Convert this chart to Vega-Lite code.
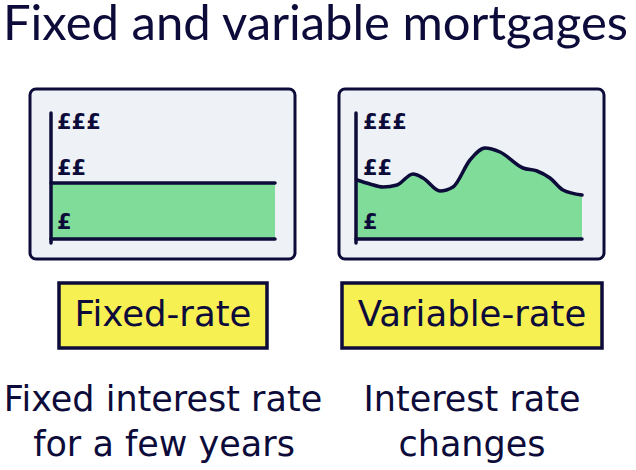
{
  "$schema": "https://vega.github.io/schema/vega-lite/v6.json",
  "width": 636,
  "height": 470,
  "autosize": {"type": "fit", "contains": "padding"},
  "padding": 0,
  "background": "white",
  "config": {"view": {"stroke": null}},
  "datasets": {
    "panels": [
      {"panel": "Fixed", "x0": 30, "x1": 295, "y0": 89, "y1": 259},
      {"panel": "Variable", "x0": 339, "x1": 604, "y0": 89, "y1": 259}
    ],
    "fixed": [
      {"x": 51, "rate": 183, "base": 239},
      {"x": 275, "rate": 183, "base": 239}
    ],
    "variable": [
      {"x": 357, "rate": 180, "base": 239},
      {"x": 370, "rate": 184, "base": 239},
      {"x": 383, "rate": 187, "base": 239},
      {"x": 397, "rate": 185, "base": 239},
      {"x": 413, "rate": 174, "base": 239},
      {"x": 423, "rate": 178, "base": 239},
      {"x": 440, "rate": 191, "base": 239},
      {"x": 453, "rate": 187, "base": 239},
      {"x": 470, "rate": 160, "base": 239},
      {"x": 485, "rate": 148, "base": 239},
      {"x": 500, "rate": 152, "base": 239},
      {"x": 523, "rate": 168, "base": 239},
      {"x": 537, "rate": 171, "base": 239},
      {"x": 550, "rate": 178, "base": 239},
      {"x": 563, "rate": 190, "base": 239},
      {"x": 582, "rate": 195, "base": 239}
    ],
    "axes": [
      {"x": 51, "x2": 51, "y": 113, "y2": 243},
      {"x": 51, "x2": 275, "y": 239, "y2": 239},
      {"x": 356, "x2": 356, "y": 113, "y2": 243},
      {"x": 356, "x2": 582, "y": 239, "y2": 239}
    ],
    "pounds": [
      {"x": 57, "y": 123, "label": "£££"},
      {"x": 57, "y": 169, "label": "££"},
      {"x": 57, "y": 223, "label": "£"},
      {"x": 363, "y": 123, "label": "£££"},
      {"x": 363, "y": 169, "label": "££"},
      {"x": 363, "y": 223, "label": "£"}
    ],
    "tags": [
      {"x0": 59, "x1": 267, "y0": 283, "y1": 348, "xc": 163, "yb": 326, "label": "Fixed-rate"},
      {"x0": 342, "x1": 602, "y0": 283, "y1": 348, "xc": 472, "yb": 326, "label": "Variable-rate"}
    ],
    "notes": [
      {"x": 163, "y": 411, "label": "Fixed interest rate"},
      {"x": 164, "y": 456, "label": "for a few years"},
      {"x": 472, "y": 411, "label": "Interest rate"},
      {"x": 472, "y": 456, "label": "changes"}
    ],
    "title": [
      {"x": 3, "y": 40, "label": "Fixed and variable mortgages"}
    ]
  },
  "layer": [
    {
      "data": {"name": "panels"},
      "mark": {"type": "rect", "fill": "#eef2f6", "stroke": "#0c0b3a", "strokeWidth": 3, "cornerRadius": 6},
      "encoding": {
        "x": {"field": "x0", "type": "quantitative", "scale": {"domain": [0, 636], "nice": false, "zero": false}, "axis": null},
        "x2": {"field": "x1"},
        "y": {"field": "y0", "type": "quantitative", "scale": {"domain": [0, 470], "nice": false, "zero": false, "reverse": true}, "axis": null},
        "y2": {"field": "y1"}
      }
    },
    {
      "data": {"name": "fixed"},
      "mark": {"type": "area", "color": "#80dd99"},
      "encoding": {
        "x": {"field": "x", "type": "quantitative"},
        "y": {"field": "rate", "type": "quantitative"},
        "y2": {"field": "base"}
      }
    },
    {
      "data": {"name": "variable"},
      "mark": {"type": "area", "color": "#80dd99", "interpolate": "monotone"},
      "encoding": {
        "x": {"field": "x", "type": "quantitative"},
        "y": {"field": "rate", "type": "quantitative"},
        "y2": {"field": "base"}
      }
    },
    {
      "data": {"name": "fixed"},
      "mark": {"type": "line", "color": "#0c0b3a", "strokeWidth": 3.5, "strokeCap": "round"},
      "encoding": {
        "x": {"field": "x", "type": "quantitative"},
        "y": {"field": "rate", "type": "quantitative"}
      }
    },
    {
      "data": {"name": "variable"},
      "mark": {"type": "line", "color": "#0c0b3a", "strokeWidth": 3.5, "strokeCap": "round", "interpolate": "monotone"},
      "encoding": {
        "x": {"field": "x", "type": "quantitative"},
        "y": {"field": "rate", "type": "quantitative"}
      }
    },
    {
      "data": {"name": "axes"},
      "mark": {"type": "rule", "color": "#0c0b3a", "strokeWidth": 3.5, "strokeCap": "round"},
      "encoding": {
        "x": {"field": "x", "type": "quantitative"},
        "x2": {"field": "x2"},
        "y": {"field": "y", "type": "quantitative"},
        "y2": {"field": "y2"}
      }
    },
    {
      "data": {"name": "pounds"},
      "mark": {"type": "text", "align": "left", "baseline": "middle", "font": "DejaVu Sans", "fontWeight": "bold", "fontSize": 21, "color": "#0c0b3a"},
      "encoding": {
        "x": {"field": "x", "type": "quantitative"},
        "y": {"field": "y", "type": "quantitative"},
        "text": {"field": "label"}
      }
    },
    {
      "data": {"name": "tags"},
      "mark": {"type": "rect", "fill": "#f7f052", "stroke": "#0c0b3a", "strokeWidth": 3.5},
      "encoding": {
        "x": {"field": "x0", "type": "quantitative"},
        "x2": {"field": "x1"},
        "y": {"field": "y0", "type": "quantitative"},
        "y2": {"field": "y1"}
      }
    },
    {
      "data": {"name": "tags"},
      "mark": {"type": "text", "align": "center", "baseline": "alphabetic", "font": "DejaVu Sans", "fontSize": 35.5, "color": "#0c0b3a"},
      "encoding": {
        "x": {"field": "xc", "type": "quantitative"},
        "y": {"field": "yb", "type": "quantitative"},
        "text": {"field": "label"}
      }
    },
    {
      "data": {"name": "notes"},
      "mark": {"type": "text", "align": "center", "baseline": "alphabetic", "font": "DejaVu Sans", "fontSize": 35, "color": "#0c0b3a"},
      "encoding": {
        "x": {"field": "x", "type": "quantitative"},
        "y": {"field": "y", "type": "quantitative"},
        "text": {"field": "label"}
      }
    },
    {
      "data": {"name": "title"},
      "mark": {"type": "text", "align": "left", "baseline": "alphabetic", "font": "Lato", "fontSize": 49, "color": "#0c0b3a"},
      "encoding": {
        "x": {"field": "x", "type": "quantitative"},
        "y": {"field": "y", "type": "quantitative"},
        "text": {"field": "label"}
      }
    }
  ]
}
